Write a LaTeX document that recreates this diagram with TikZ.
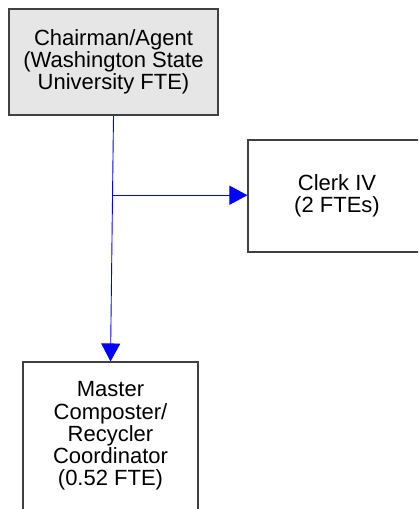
\documentclass[tikz,border=0pt]{standalone}
\usepackage{fontspec}
\setmainfont{Liberation Sans}
\definecolor{boxline}{HTML}{404040}
\definecolor{boxfill}{HTML}{E6E6E6}
\definecolor{linkblue}{HTML}{0000FF}
\usetikzlibrary{arrows.meta,calc}

\begin{document}
\begin{tikzpicture}[x=1pt,y=-1pt,
  unit/.style={draw=boxline,line width=1.1pt,align=center,inner sep=0pt,
    font=\fontsize{22}{22.2}\selectfont},
  link/.style={draw=linkblue,line width=0.9pt,-{Triangle[length=18pt,width=19pt]}}]
\useasboundingbox (0,0) rectangle (418,509);
\clip (0,0) rectangle (418,509);
\node[unit,fill=boxfill,minimum width=209pt,minimum height=106pt] (chair) at (113.5,62)
  {Chairman/Agent\\(Washington State\\University FTE)};
\node[unit,minimum width=178pt,minimum height=112pt] (clerk) at (337,196)
  {Clerk IV\\(2 FTEs)};
\node[unit,minimum width=175pt,minimum height=148pt] (master) at (110.5,436)
  {Master\\Composter/\\Recycler\\Coordinator\\(0.52 FTE)};
\coordinate (split) at ($(chair.south)!0.324!(master.north)$);
\draw[link] (chair.south) -- (master.north);
\draw[link] (split) -- (split -| clerk.west);
\end{tikzpicture}
\end{document}
